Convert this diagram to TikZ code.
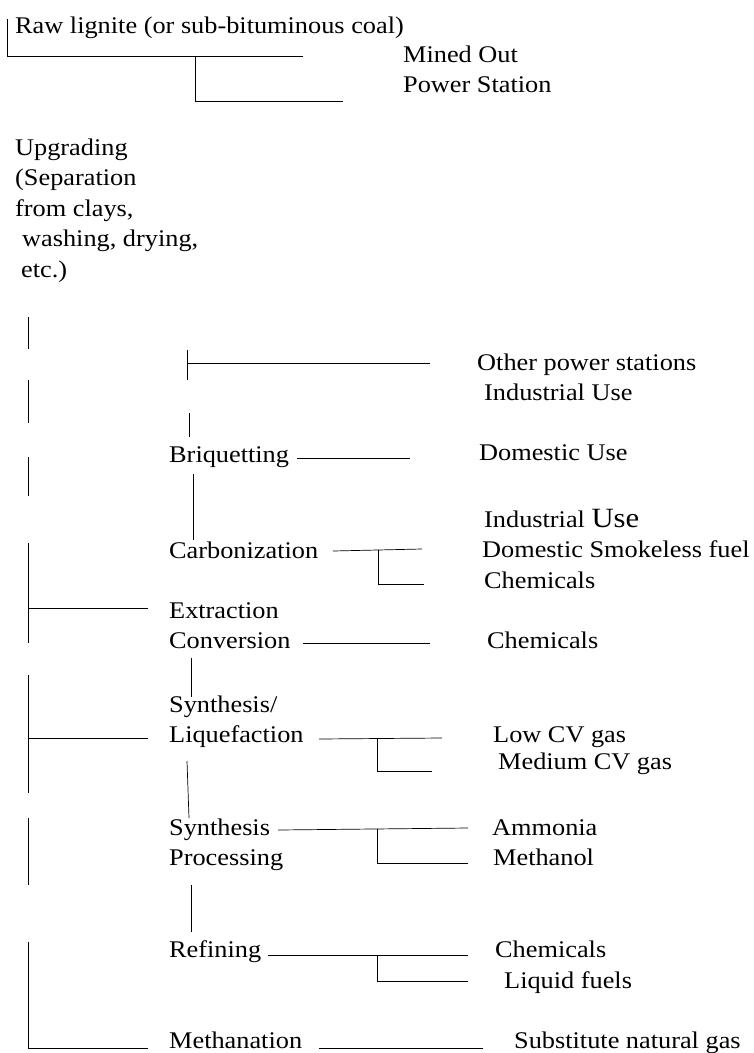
\documentclass[tikz,border=0pt]{standalone}
\usepackage{fontspec}
\setmainfont{Liberation Serif}[FakeStretch=1.1]
\usetikzlibrary{positioning}

\begin{document}
\begin{tikzpicture}[
  x=1bp, y=-1bp,
  txt/.style={anchor=base west, inner sep=0pt, align=left, font=\fontsize{24}{30}\selectfont},
  ln/.style={line width=0.7bp}
]
\useasboundingbox (0,0) rectangle (754,1053);
\node[txt] (raw) at (15,33) {Raw lignite (or sub-bituminous coal)};
\node[txt] (mined) at (403,62) {Mined Out};
\node[txt] (power) at (403,92) {Power Station};
\node[txt, font=\fontsize{24}{30.5}\selectfont] (upg) at (15,277) {Upgrading\\(Separation\\from clays,\\\hspace{7bp}washing, drying,\\\hspace{6bp}etc.)};
\node[txt] (briq) at (169,462) {Briquetting};
\node[txt] (carb) at (169,558) {Carbonization};
\node[txt] (extr) at (169,648) {Extraction\\Conversion};
\node[txt] (synl) at (169,742) {Synthesis/\\Liquefaction};
\node[txt] (synp) at (169,865) {Synthesis\\Processing};
\node[txt] (refi) at (169,957) {Refining};
\node[txt] (meth) at (169,1048) {Methanation};
\node[txt] (ops) at (477,370) {Other power stations};
\node[txt] (ind1) at (484,400) {Industrial Use};
\node[txt] (dom) at (479,460) {Domestic Use};
\node[txt] (ind2) at (484,527) {Industrial {\fontsize{28}{30}\selectfont Use}};
\node[txt] (smk) at (482,557) {Domestic Smokeless fuel};
\node[txt] (chem1) at (484,588) {Chemicals};
\node[txt] (chem2) at (487,648) {Chemicals};
\node[txt] (lowcv) at (493,742) {Low CV gas};
\node[txt] (medcv) at (498,769) {Medium CV gas};
\node[txt] (ammo) at (492,835) {Ammonia};
\node[txt] (meoh) at (493,865) {Methanol};
\node[txt] (chem3) at (495,957) {Chemicals};
\node[txt] (liq) at (504,988) {Liquid fuels};
\node[txt] (sng) at (514,1048) {Substitute natural gas};

\draw[ln] (7,19) -- (7,56) -- (303,56);
\draw[ln] (195,56) -- (195,101) -- (343,101);
\foreach \a/\b in {317/349, 380/423, 457/496, 543/643, 675/793, 818/885, 942/1048}
  \draw[ln] (28,\a) -- (28,\b);
\draw[ln] (28,608) -- (148,608);
\draw[ln] (28,738) -- (148,738);
\draw[ln] (28,1048) -- (148,1048);
\draw[ln] (187,350) -- (187,380);
\draw[ln] (187,363) -- (430,363);
\draw[ln] (189,413) -- (189,437);
\draw[ln] (297,458) -- (410,458);
\draw[ln] (193,474) -- (193,540);
\draw[ln] (333,551) -- (422,549);
\draw[ln] (378,550) -- (378,584) -- (424,584);
\draw[ln] (303,643) -- (430,643);
\draw[ln] (191,658) -- (191,697);
\draw[ln] (319,739) -- (442,738);
\draw[ln] (377,739) -- (377,771) -- (432,771);
\draw[ln] (187,761) -- (189,818);
\draw[ln] (278,830) -- (468,828);
\draw[ln] (377,829) -- (377,863) -- (468,863);
\draw[ln] (191,885) -- (191,932);
\draw[ln] (268,955) -- (468,955);
\draw[ln] (377,955) -- (377,981) -- (468,981);
\draw[ln] (319,1048) -- (483,1048);
\end{tikzpicture}
\end{document}
